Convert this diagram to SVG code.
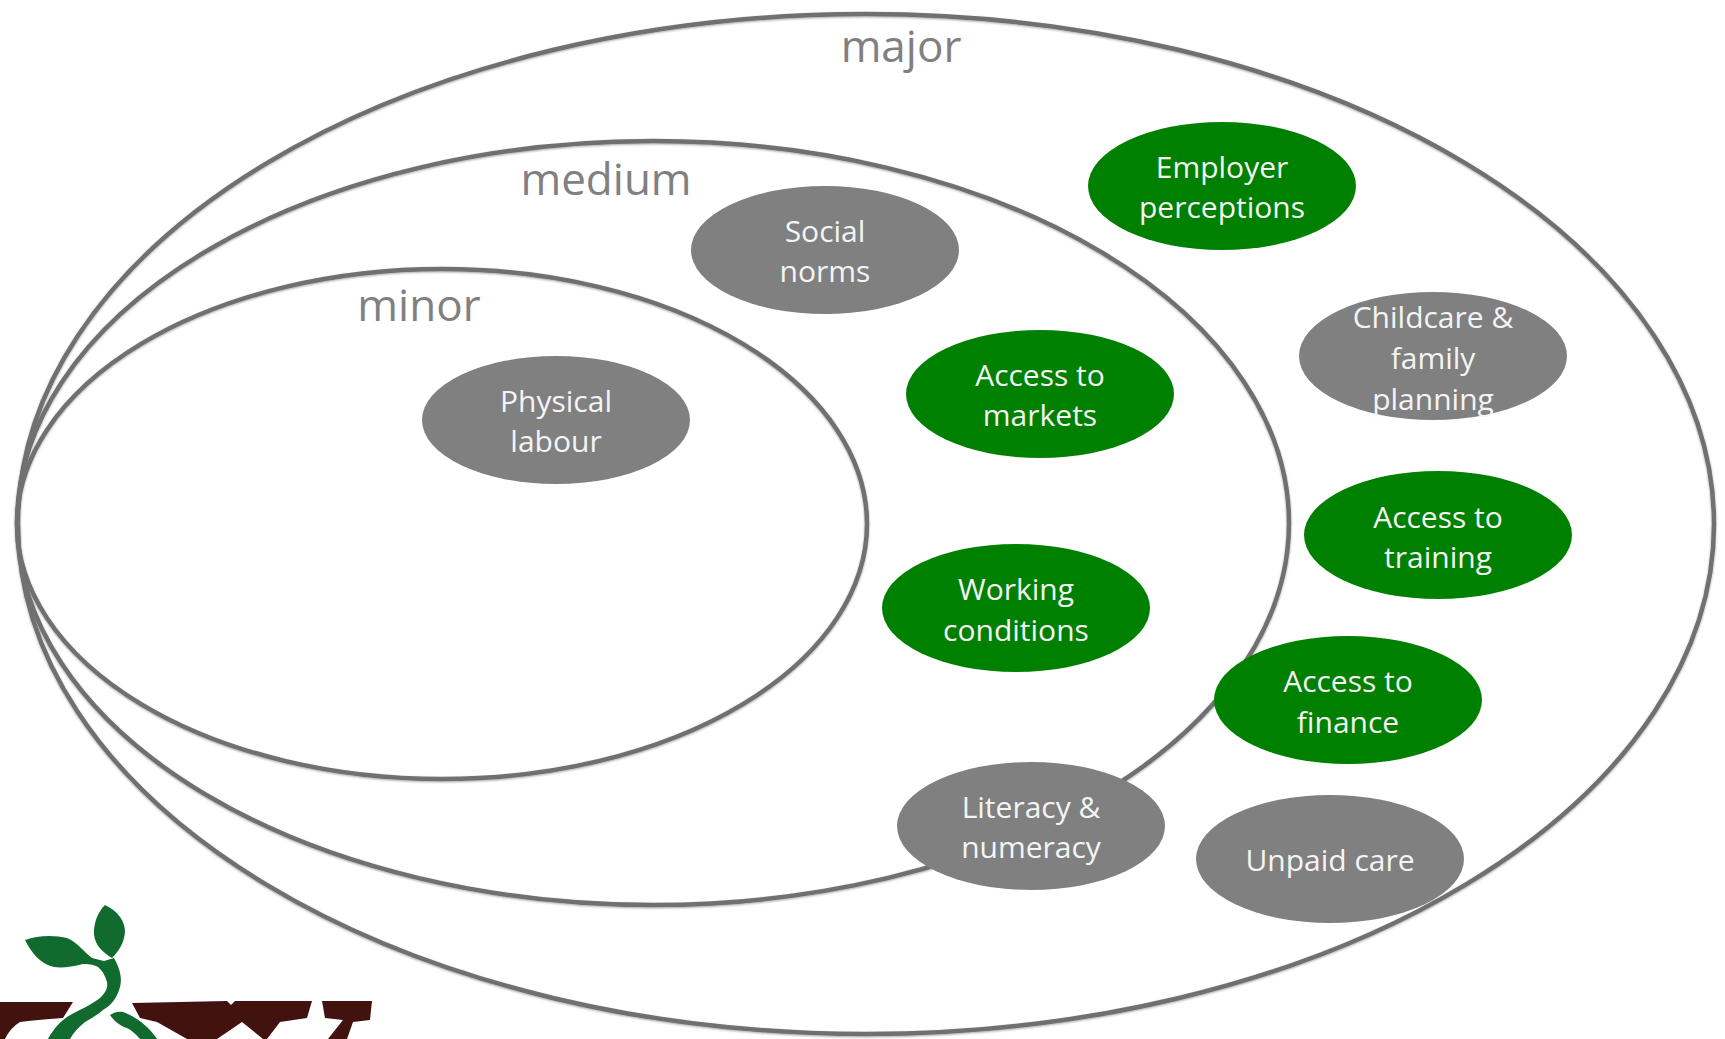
<svg xmlns="http://www.w3.org/2000/svg" width="1725" height="1039" viewBox="0 0 1725 1039">
<defs><filter id="soft" x="-5%" y="-5%" width="110%" height="110%"><feDropShadow dx="0" dy="1" stdDeviation="1.2" flood-color="#000" flood-opacity=".35"/></filter></defs>
<style>
.ring{fill:none;stroke:#707070;stroke-width:4.5}
.g{fill:#808080}.v{fill:#008000}
text{font-family:"Open Sans","Noto Sans",sans-serif;text-anchor:middle}
.l{fill:#f4f4f4;font-size:30px}.h{fill:#808080;font-size:44px}
.lg{fill:#116b2e}.lb{fill:#42120f}
</style>
<rect width="1725" height="1039" fill="#fff"/>
<g id="rings" filter="url(#soft)">
<ellipse id="major" class="ring" cx="866" cy="524" rx="848" ry="510"/>
<ellipse id="medium" class="ring" cx="653" cy="523" rx="636" ry="382"/>
<ellipse id="minor" class="ring" cx="442" cy="524" rx="425" ry="255"/>
</g>
<text class="h" x="901" y="62">major</text>
<text class="h" x="606" y="195">medium</text>
<text class="h" x="419" y="321">minor</text>
<g id="n1"><ellipse class="v" cx="1222" cy="186" rx="134" ry="64"/><text class="l" x="1222" y="178">Employer</text><text class="l" x="1222" y="218">perceptions</text></g>
<g id="n2"><ellipse class="g" cx="825" cy="250" rx="134" ry="64"/><text class="l" x="825" y="242">Social</text><text class="l" x="825" y="282">norms</text></g>
<g id="n3"><ellipse class="g" cx="1433" cy="356" rx="134" ry="64"/><text class="l" x="1433" y="328">Childcare &amp;</text><text class="l" x="1433" y="369">family</text><text class="l" x="1433" y="410">planning</text></g>
<g id="n4"><ellipse class="v" cx="1040" cy="394" rx="134" ry="64"/><text class="l" x="1040" y="386">Access to</text><text class="l" x="1040" y="426">markets</text></g>
<g id="n5"><ellipse class="g" cx="556" cy="420" rx="134" ry="64"/><text class="l" x="556" y="412">Physical</text><text class="l" x="556" y="452">labour</text></g>
<g id="n6"><ellipse class="v" cx="1438" cy="535" rx="134" ry="64"/><text class="l" x="1438" y="528">Access to</text><text class="l" x="1438" y="568">training</text></g>
<g id="n7"><ellipse class="v" cx="1016" cy="608" rx="134" ry="64"/><text class="l" x="1016" y="600">Working</text><text class="l" x="1016" y="641">conditions</text></g>
<g id="n8"><ellipse class="v" cx="1348" cy="700" rx="134" ry="64"/><text class="l" x="1348" y="692">Access to</text><text class="l" x="1348" y="733">finance</text></g>
<g id="n9"><ellipse class="g" cx="1031" cy="826" rx="134" ry="64"/><text class="l" x="1031" y="818">Literacy &amp;</text><text class="l" x="1031" y="858">numeracy</text></g>
<g id="n10"><ellipse class="g" cx="1330" cy="859" rx="134" ry="64"/><text class="l" x="1330" y="871">Unpaid care</text></g>
<g id="logo">
<path class="lb" d="M0 1002H73L63 1018Q35 1020 20 1022Q10 1028 5 1039H0Z"/>
<path class="lb" d="M132 1003L227 1001L231 1005L235 1001H312L307 1018L280 1022L267 1039H263L242 1022L217 1039H187L157 1022L140 1018Z"/>
<path class="lb" d="M322 1001H372L370 1020L353 1022L347 1039H328L343 1020L325 1018Z"/>
<path class="lg" d="M105 905C118 911 125 921 125 932C124 943 119 951 112 958C100 951 93 942 94 930C95 919 99 911 105 905Z"/>
<path class="lg" d="M25 940C38 935 55 935 67 938C77 942 84 952 92 958L104 961L114 958C121 970 122 980 120 987C117 999 110 1006 103 1010C96 1016 90 1019 85 1022C78 1028 73 1033 70 1039H48C54 1028 60 1022 67 1017C78 1010 90 1006 100 998C106 992 108 988 107 982C105 975 102 970 98 967C92 964 88 964 83 964C72 967 62 968 54 967C40 964 31 952 25 940Z"/>
<path class="lg" d="M110 1015C114 1012 119 1011 123 1012C134 1016 143 1023 148 1028C152 1032 155 1036 157 1039H140C136 1034 131 1030 127 1028C120 1026 114 1021 110 1015Z"/>
</g>
</svg>
